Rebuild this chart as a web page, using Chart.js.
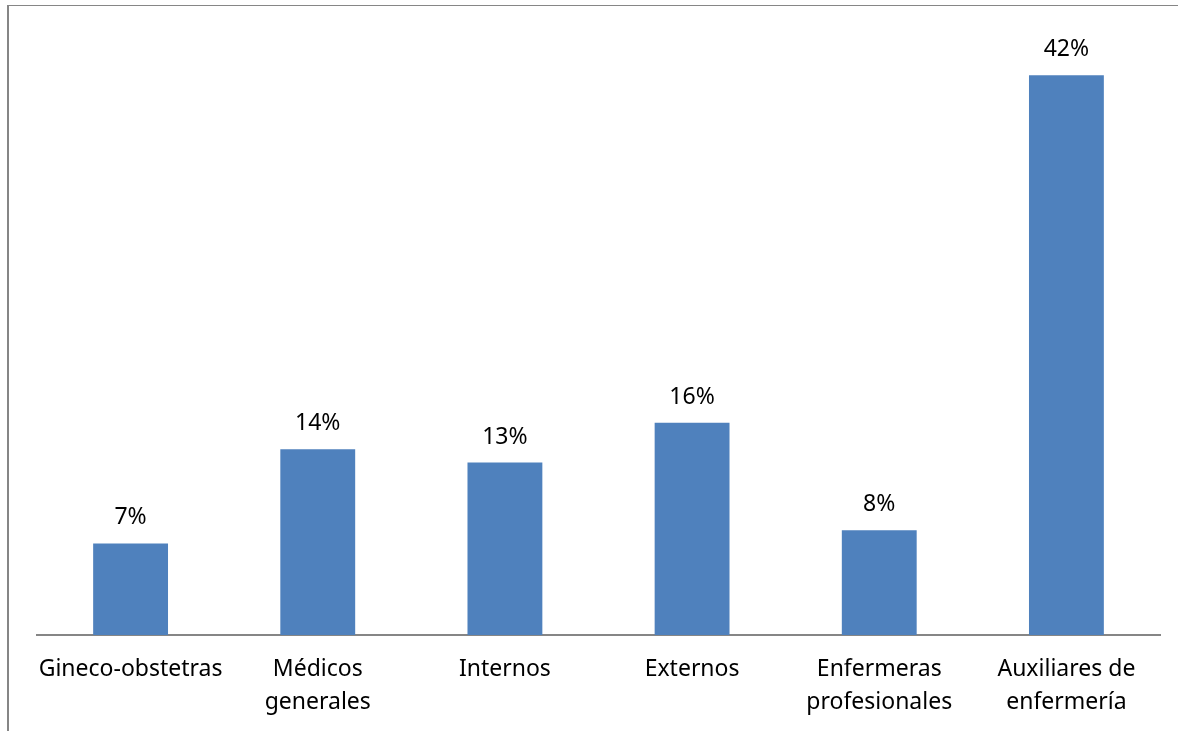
<!DOCTYPE html>
<html>
<head>
<meta charset="utf-8">
<script src="https://cdn.jsdelivr.net/npm/chart.js@4.4.1/dist/chart.umd.min.js"></script>
<style>
  html, body { margin: 0; padding: 0; background: #fff; overflow: hidden; }
  #wrap { position: absolute; left: 0; top: 0; width: 1178px; height: 731px; }
  #frame { position: absolute; left: 7px; top: 5px; width: 1200px; height: 800px;
           border-left: 2px solid #868686; border-top: 1px solid #868686; pointer-events: none; }
</style>
</head>
<body>
<div id="wrap"><canvas id="c" width="1178" height="731"></canvas></div>
<div id="frame"></div>
<script>
const categories = [["Gineco-obstetras"], ["Médicos", "generales"], ["Internos"], ["Externos"], ["Enfermeras", "profesionales"], ["Auxiliares de", "enfermería"]];
const values = [6.9, 14.0, 13.0, 16.0, 7.9, 42.2];
const barColor = "#4F81BD";
const FONT = "'Noto Sans', sans-serif";
const FONT_SIZE = 23;

const labelPlugin = {
  id: 'barLabels',
  afterDatasetsDraw(chart) {
    const ctx = chart.ctx;
    const meta = chart.getDatasetMeta(0);
    ctx.save();
    ctx.font = FONT_SIZE + "px " + FONT;
    ctx.fillStyle = "#000";
    ctx.textAlign = "center";
    ctx.textBaseline = "alphabetic";
    meta.data.forEach((bar, i) => {
      ctx.fillText(Math.round(values[i]) + "%", bar.x, bar.y - 19);
    });
    ctx.restore();
  }
};

new Chart(document.getElementById('c'), {
  type: 'bar',
  data: {
    labels: categories,
    datasets: [{
      data: values,
      backgroundColor: barColor,
      borderWidth: 0,
      categoryPercentage: 1.0,
      barPercentage: 0.4
    }]
  },
  options: {
    responsive: false,
    animation: false,
    devicePixelRatio: 1,
    layout: { padding: { left: 37, right: 18, top: 38, bottom: 0 } },
    plugins: { legend: { display: false }, tooltip: { enabled: false } },
    scales: {
      x: {
        grid: { display: false, drawTicks: false },
        border: { display: true, color: '#868686', width: 2 },
        ticks: { color: '#000', font: { family: FONT, size: FONT_SIZE, lineHeight: 1.43 }, padding: 18, maxRotation: 0, autoSkip: false },
        afterFit(scale) { scale.height = 96; }
      },
      y: {
        display: false,
        min: 0,
        max: 45
      }
    }
  },
  plugins: [labelPlugin]
});
</script>
</body>
</html>
